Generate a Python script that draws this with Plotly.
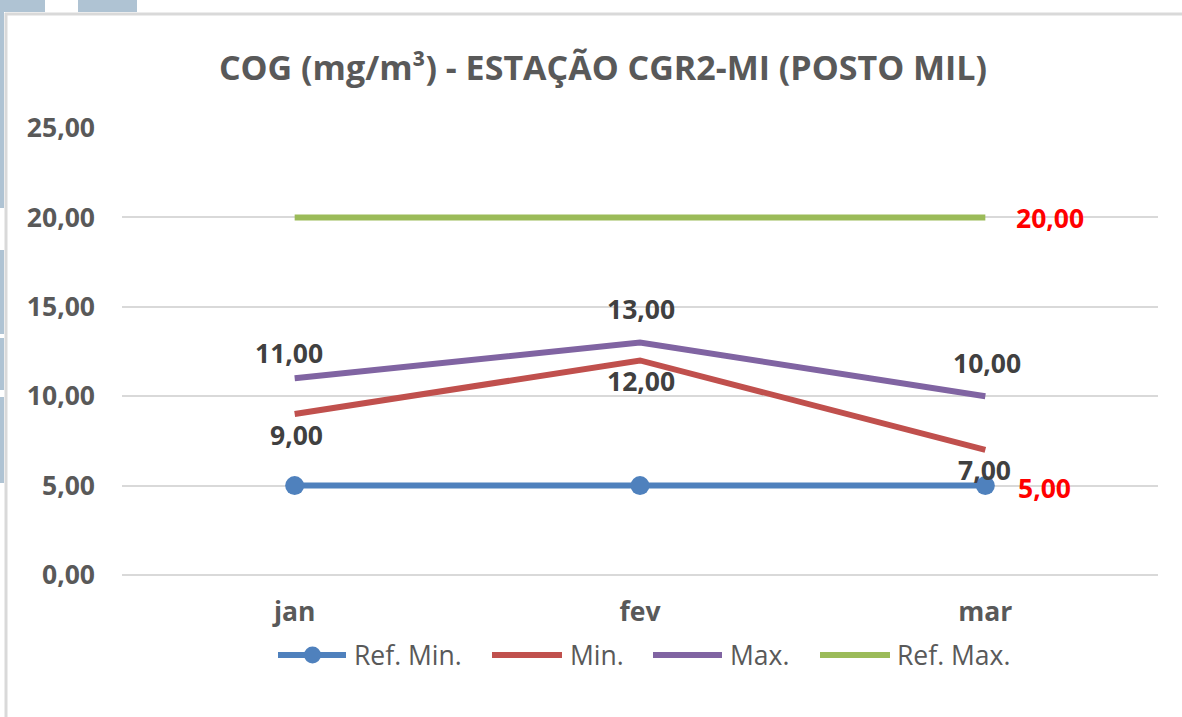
import plotly.graph_objects as go

# ---- data ----
months = ["jan", "fev", "mar"]
ref_min = [5.0, 5.0, 5.0]
min_vals = [9.0, 12.0, 7.0]
max_vals = [11.0, 13.0, 10.0]
ref_max = [20.0, 20.0, 20.0]
series_names = ["Ref. Min.", "Min.", "Max.", "Ref. Max."]
y_ticks = [0, 5, 10, 15, 20, 25]

# ---- styles ----
C_BLUE, C_RED, C_PURPLE, C_GREEN = "#4F81BD", "#C0504D", "#8064A2", "#9BBB59"
FONT = "Open Sans"
W, H = 1182, 717
ML, MR, MT, MB = 122, 24, 128, 142
PW, PH = W - ML - MR, H - MT - MB


def fmt(v):
    return f"{v:.2f}".replace(".", ",")


def px(x):
    return (x - ML) / PW


def py(y):
    return (H - MB - y) / PH


fig = go.Figure()
fig.add_trace(go.Scatter(x=months, y=ref_min, name=series_names[0], mode="lines+markers",
                         line=dict(color=C_BLUE, width=6), marker=dict(size=19, color=C_BLUE)))
fig.add_trace(go.Scatter(x=months, y=min_vals, name=series_names[1], mode="lines",
                         line=dict(color=C_RED, width=6)))
fig.add_trace(go.Scatter(x=months, y=max_vals, name=series_names[2], mode="lines",
                         line=dict(color=C_PURPLE, width=6)))
fig.add_trace(go.Scatter(x=months, y=ref_max, name=series_names[3], mode="lines",
                         line=dict(color=C_GREEN, width=6)))

annotations = []
lab_font = dict(family=FONT, size=26.5, color="#404040", weight=700)
max_shift = [(-6, 25), (1, 34), (2, 33)]
min_shift = [(2, -21), (1, -21), (-1, -20)]
for i, m in enumerate(months):
    annotations.append(dict(x=m, y=max_vals[i], text=fmt(max_vals[i]), showarrow=False,
                            xanchor="center", yanchor="middle", xshift=max_shift[i][0],
                            yshift=max_shift[i][1], font=lab_font))
    annotations.append(dict(x=m, y=min_vals[i], text=fmt(min_vals[i]), showarrow=False,
                            xanchor="center", yanchor="middle", xshift=min_shift[i][0],
                            yshift=min_shift[i][1], font=lab_font))
red_font = dict(family=FONT, size=26.5, color="#FF0000", weight=700)
annotations.append(dict(x=months[-1], y=ref_max[-1], text=fmt(ref_max[-1]), showarrow=False,
                        xanchor="left", yanchor="middle", xshift=29, yshift=-1, font=red_font))
annotations.append(dict(x=months[-1], y=ref_min[-1], text=fmt(ref_min[-1]), showarrow=False,
                        xanchor="left", yanchor="middle", xshift=31, yshift=-2, font=red_font))

# manual legend
shapes = []
leg_y = 655
leg_items = [(278, 346, 352, C_BLUE), (492, 562, 568, C_RED), (653, 722, 728, C_PURPLE),
             (820, 890, 895, C_GREEN)]
for (x0, x1, xt, col), name in zip(leg_items, series_names):
    shapes.append(dict(type="line", xref="paper", yref="paper", x0=px(x0), x1=px(x1),
                       y0=py(leg_y), y1=py(leg_y), line=dict(color=col, width=6)))
    annotations.append(dict(xref="paper", yref="paper", x=px(xt), y=py(leg_y), text=name,
                            showarrow=False, xanchor="left", yanchor="middle",
                            font=dict(family=FONT, size=26.5, color="#595959")))
shapes.append(dict(type="circle", xref="paper", yref="paper", x0=px(304), x1=px(321),
                   y0=py(leg_y - 8.5), y1=py(leg_y + 8.5), fillcolor=C_BLUE, line=dict(width=0)))

# slide background / chart frame
BG = "#AFC3D3"
for (x0, y0, x1, y1) in [(0, 0, 45, 12), (78, 0, 137, 12), (0, 0, 4, 208), (0, 250, 4, 334),
                         (0, 338, 4, 390), (0, 397, 4, 483)]:
    shapes.append(dict(type="rect", xref="paper", yref="paper", x0=px(x0), x1=px(x1),
                       y0=py(y0), y1=py(y1), fillcolor=BG, line=dict(width=0), layer="below"))
shapes.append(dict(type="line", xref="paper", yref="paper", x0=px(6), x1=px(6), y0=py(13),
                   y1=py(H), line=dict(color="#D9D9D9", width=3), layer="below"))
shapes.append(dict(type="line", xref="paper", yref="paper", x0=px(5), x1=px(W), y0=py(14),
                   y1=py(14), line=dict(color="#D9D9D9", width=3), layer="below"))

fig.update_layout(
    width=W, height=H,
    margin=dict(l=ML, r=MR, t=MT, b=MB, autoexpand=False),
    paper_bgcolor="white", plot_bgcolor="white",
    separators=",.",
    showlegend=False,
    title=dict(text="COG (mg/m³) - ESTAÇÃO CGR2-MI (POSTO MIL)", x=603 / W, xref="container",
               xanchor="center", y=1 - 68 / H, yref="container", yanchor="middle",
               font=dict(family=FONT, size=34, color="#595959", weight=700)),
    xaxis=dict(type="category", range=[-0.5, 2.5], showgrid=False, showline=False,
               zeroline=False, ticks="", ticklabelstandoff=18,
               tickfont=dict(family=FONT, size=26.5, color="#595959", weight=700)),
    yaxis=dict(range=[0, 25], tickvals=y_ticks, tickformat=".2f", showgrid=True,
               gridcolor="#D9D9D9", gridwidth=2, zeroline=True, zerolinecolor="#D9D9D9",
               zerolinewidth=2, showline=False, ticks="", ticklabelstandoff=26,
               tickfont=dict(family=FONT, size=26.5, color="#595959", weight=700)),
    annotations=annotations,
    shapes=shapes,
)

fig.write_html("out.html", config={"displayModeBar": False},
               post_script="document.body.style.margin='0';document.body.style.overflow='hidden';")
